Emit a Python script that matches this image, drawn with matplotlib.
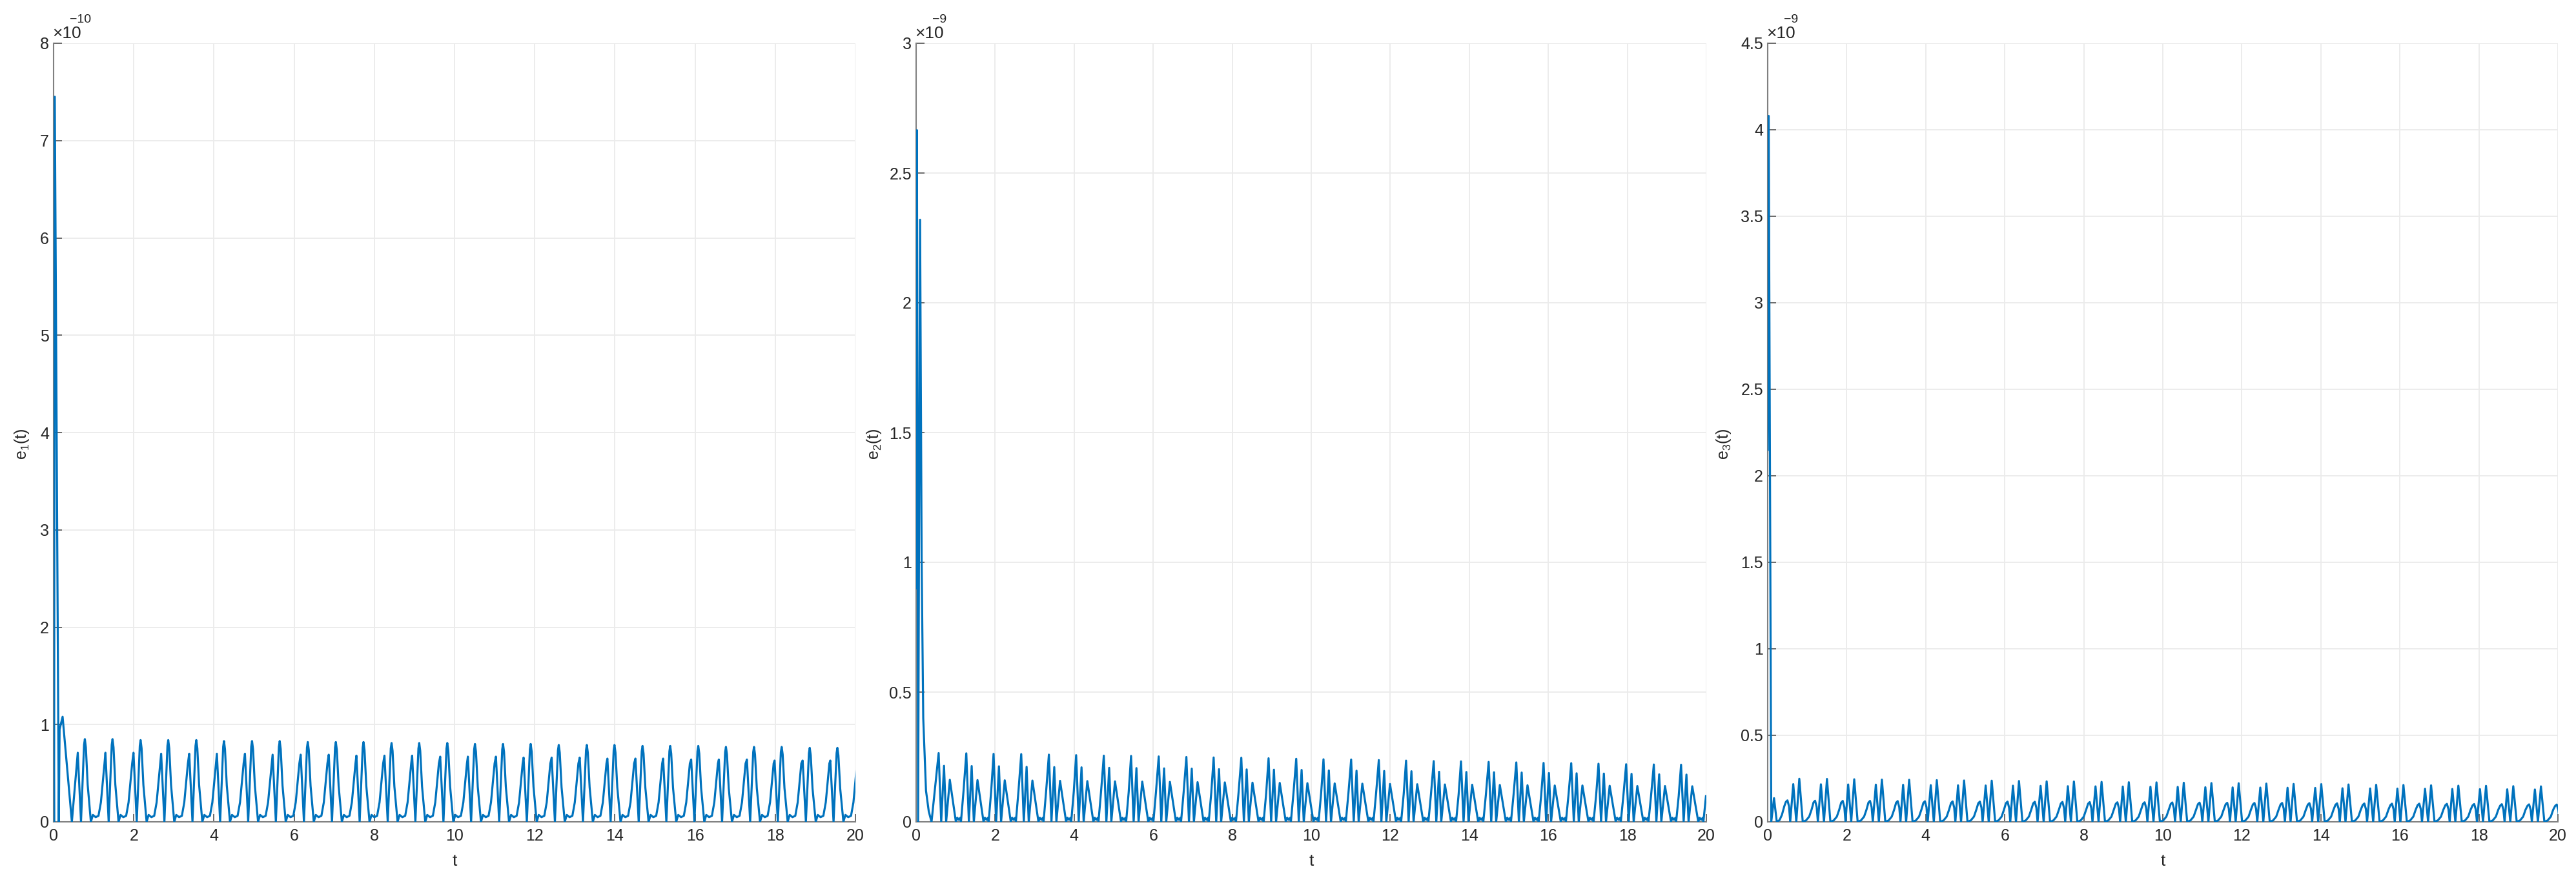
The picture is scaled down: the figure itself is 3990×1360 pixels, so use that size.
import numpy as np
import matplotlib
matplotlib.use("Agg")
import matplotlib.pyplot as plt

plt.rcParams['font.family'] = ['Liberation Sans', 'DejaVu Sans']
plt.rcParams['mathtext.fontset'] = 'custom'
plt.rcParams['mathtext.rm'] = 'Liberation Sans'
plt.rcParams['mathtext.it'] = 'Liberation Sans'

# ---------------- data (values in units of the axis multiplier) ----------------
# Panel 1: e1(t) [x1e-10]
e1_start_t = [0.0, 0.012, 0.03, 0.13, 0.15, 0.225, 0.456]
e1_start_v = [1.22, 0.0, 7.45, 0.0, 0.95, 1.08, 0.0]
e1_tall_t = [0.78, 1.47, 2.17, 2.86, 3.56, 4.25, 4.95, 5.64, 6.34, 7.04, 7.73, 8.43, 9.12, 9.82,
             10.51, 11.21, 11.90, 12.60, 13.30, 13.99, 14.69, 15.38, 16.08, 16.77, 17.47, 18.16, 18.86, 19.55]
e1_tall_v = [0.85, 0.85, 0.84, 0.84, 0.84, 0.83, 0.83, 0.83, 0.82, 0.82, 0.82, 0.81, 0.81, 0.81,
             0.80, 0.80, 0.80, 0.79, 0.79, 0.79, 0.78, 0.78, 0.78, 0.77, 0.77, 0.77, 0.76, 0.76]
e1_sec_v = [0.71, 0.71, 0.71, 0.70, 0.70, 0.70, 0.70, 0.69, 0.69, 0.69, 0.68, 0.68, 0.68, 0.67,
            0.67, 0.67, 0.66, 0.66, 0.66, 0.65, 0.65, 0.65, 0.64, 0.64, 0.64, 0.63, 0.63, 0.63]
e1_shape_dt = [-0.177, -0.096, -0.02, 0.0, 0.025, 0.07, 0.15, 0.20, 0.27, 0.34, 0.40, 0.45, 0.49]
e1_shape_v = ['S', 0.0, ('P', 0.93), 'P', ('P', 0.9), ('P', 0.45), 0.0, 0.071, 0.048, 0.062, 0.20, 0.42, 0.60]

# Panel 2: e2(t) [x1e-9]
e2_start_t = [0.0, 0.02, 0.05, 0.10, 0.14, 0.18, 0.25, 0.32, 0.39]
e2_start_v = [0.9, 2.665, 0.0, 2.32, 1.0, 0.4, 0.12, 0.04, 0.0]
e2_tall_t = [0.57, 1.27, 1.96, 2.66, 3.36, 4.05, 4.75, 5.44, 6.14, 6.84, 7.53, 8.23, 8.92, 9.62,
             10.31, 11.01, 11.71, 12.40, 13.10, 13.79, 14.49, 15.19, 15.88, 16.58, 17.27, 17.97, 18.67, 19.36]
e2_tall_v = [0.265, 0.264, 0.262, 0.261, 0.259, 0.257, 0.255, 0.254, 0.252, 0.250, 0.248, 0.247, 0.245, 0.243,
             0.241, 0.240, 0.238, 0.236, 0.234, 0.233, 0.231, 0.229, 0.227, 0.226, 0.224, 0.222, 0.221, 0.220]
e2_mid_v = [0.216, 0.215, 0.214, 0.212, 0.211, 0.210, 0.208, 0.207, 0.206, 0.205, 0.203, 0.202, 0.201, 0.200,
            0.198, 0.197, 0.196, 0.195, 0.193, 0.192, 0.191, 0.190, 0.188, 0.187, 0.186, 0.185, 0.183, 0.182]
e2_low_v = [0.162, 0.161, 0.160, 0.159, 0.158, 0.157, 0.156, 0.155, 0.154, 0.153, 0.152, 0.151, 0.150, 0.149,
            0.148, 0.147, 0.146, 0.145, 0.144, 0.143, 0.142, 0.141, 0.140, 0.140, 0.139, 0.138, 0.138, 0.137]
e2_shape_dt = [0.0, 0.065, 0.136, 0.19, 0.283, 0.36, 0.436, 0.47, 0.51, 0.55, 0.565, 0.63]
e2_shape_v = ['P', 0.0, 'Q', 0.0, 'R', ('R', 0.5), 0.0, 0.016, 0.008, 0.016, 0.0, ('P', 0.45)]

# Panel 3: e3(t) [x1e-9]
e3_start_t = [0.0, 0.025, 0.09, 0.16, 0.23, 0.30, 0.36, 0.42, 0.46, 0.50, 0.54, 0.57]
e3_start_v = [2.15, 4.08, 0.0, 0.137, 0.0, 0.01, 0.04, 0.09, 0.115, 0.124, 0.09, 0.0]
e3_tall_t = [0.80, 1.50, 2.19, 2.89, 3.58, 4.28, 4.97, 5.67, 6.36, 7.06, 7.75, 8.45, 9.14, 9.84,
             10.53, 11.23, 11.92, 12.62, 13.31, 14.01, 14.70, 15.40, 16.09, 16.79, 17.48, 18.18, 18.87, 19.57]
e3_tall_v = [0.249, 0.248, 0.246, 0.244, 0.243, 0.241, 0.239, 0.238, 0.236, 0.234, 0.233, 0.231, 0.229, 0.228,
             0.226, 0.224, 0.223, 0.221, 0.219, 0.218, 0.216, 0.214, 0.213, 0.211, 0.209, 0.208, 0.206, 0.205]
e3_mid_v = [0.218, 0.217, 0.216, 0.215, 0.214, 0.212, 0.211, 0.210, 0.209, 0.208, 0.206, 0.205, 0.204, 0.203,
            0.202, 0.200, 0.199, 0.198, 0.197, 0.196, 0.194, 0.193, 0.192, 0.191, 0.190, 0.189, 0.188, 0.187]
e3_hump_v = [0.122, 0.121, 0.121, 0.120, 0.119, 0.118, 0.117, 0.117, 0.116, 0.115, 0.114, 0.113, 0.113, 0.112,
             0.111, 0.110, 0.109, 0.109, 0.108, 0.107, 0.106, 0.105, 0.105, 0.104, 0.103, 0.102, 0.101, 0.100]
e3_shape_dt = [-0.153, -0.076, 0.0, 0.087, 0.17, 0.25, 0.31, 0.36, 0.40, 0.44, 0.47]
e3_shape_v = ['Q', 0.0, 'P', 0.0, 0.008, 0.03, 0.07, ('H', 0.92), 'H', ('H', 0.7), 0.0]

x_ticks = [0, 2, 4, 6, 8, 10, 12, 14, 16, 18, 20]
y_ticks = [[0, 1, 2, 3, 4, 5, 6, 7, 8],
           [0, 0.5, 1, 1.5, 2, 2.5, 3],
           [0, 0.5, 1, 1.5, 2, 2.5, 3, 3.5, 4, 4.5]]
y_ticklabels = [['0', '1', '2', '3', '4', '5', '6', '7', '8'],
                ['0', '0.5', '1', '1.5', '2', '2.5', '3'],
                ['0', '0.5', '1', '1.5', '2', '2.5', '3', '3.5', '4', '4.5']]
exponents = ['\u221210', '\u22129', '\u22129']
ylabels = [r'e$_1$(t)', r'e$_2$(t)', r'e$_3$(t)']


def build(start_t, start_v, centers, shape_dt, shape_v, refs):
    ts = list(start_t)
    vs = list(start_v)
    for k, c in enumerate(centers):
        for dt, lv in zip(shape_dt, shape_v):
            if isinstance(lv, str):
                v = refs[lv][k]
            elif isinstance(lv, tuple):
                v = refs[lv[0]][k] * lv[1]
            else:
                v = lv
            ts.append(c + dt)
            vs.append(v)
    return np.array(ts), np.array(vs)


series = [
    build(e1_start_t, e1_start_v, e1_tall_t, e1_shape_dt, e1_shape_v,
          {'P': e1_tall_v, 'S': e1_sec_v}),
    build(e2_start_t, e2_start_v, e2_tall_t, e2_shape_dt, e2_shape_v,
          {'P': e2_tall_v, 'Q': e2_mid_v, 'R': e2_low_v}),
    build(e3_start_t, e3_start_v, e3_tall_t, e3_shape_dt, e3_shape_v,
          {'P': e3_tall_v, 'Q': e3_mid_v, 'H': e3_hump_v}),
]

W, H = 3990, 1360
fig = plt.figure(figsize=(W / 100, H / 100), dpi=100)
fig.patch.set_facecolor('white')

# axes pixel geometry: (left, right) ; bottom 1273, top 67
ax_px = [(83, 1325), (1419, 2643), (2738, 3962)]
ax_bottom, ax_top = 1273, 67
ylab_px = [34, 1354, 2670]

for i, ((l, r), (t, v)) in enumerate(zip(ax_px, series)):
    ax = fig.add_axes([l / W, (H - ax_bottom) / H, (r - l) / W, (ax_bottom - ax_top) / H])
    ax.plot(t, v, color='#0072BD', lw=2.3, solid_joinstyle='round', zorder=3)
    ax.set_xlim(0, 20)
    ax.set_ylim(y_ticks[i][0], y_ticks[i][-1])
    ax.set_xticks(x_ticks)
    ax.set_xticklabels([str(x) for x in x_ticks])
    ax.set_yticks(y_ticks[i])
    ax.set_yticklabels(y_ticklabels[i])
    ax.grid(True, color='#ebebeb', lw=1.3, zorder=0)
    ax.set_axisbelow(True)
    for s in ['top', 'right']:
        ax.spines[s].set_visible(False)
    for s in ['left', 'bottom']:
        ax.spines[s].set_color('#808080')
        ax.spines[s].set_linewidth(1.5)
    ax.tick_params(axis='both', direction='in', length=9, width=1.2, color='#555555',
                   labelsize=18, labelcolor='#262626')
    ax.tick_params(axis='x', pad=7)
    ax.tick_params(axis='y', pad=5)
    wpx = r - l
    hpx = ax_bottom - ax_top
    # multiplier label
    ax.text(-2 / wpx, 1 + 8 / hpx, '\u00d710', transform=ax.transAxes, ha='left', va='baseline',
            fontsize=19, color='#262626')
    ax.text(25 / wpx, 1 + 32 / hpx, exponents[i], transform=ax.transAxes, ha='left', va='baseline',
            fontsize=14, color='#262626')
    # y label
    ax.text((ylab_px[i] - l) / wpx, 0.485, ylabels[i], transform=ax.transAxes, rotation=90,
            ha='center', va='center', fontsize=18, color='#262626')
    # x label
    ax.text(0.5, -(1334 - ax_bottom) / hpx, 't', transform=ax.transAxes, ha='center', va='center',
            fontsize=19, color='#262626')

fig.savefig('out.png', dpi=100, facecolor='white')
